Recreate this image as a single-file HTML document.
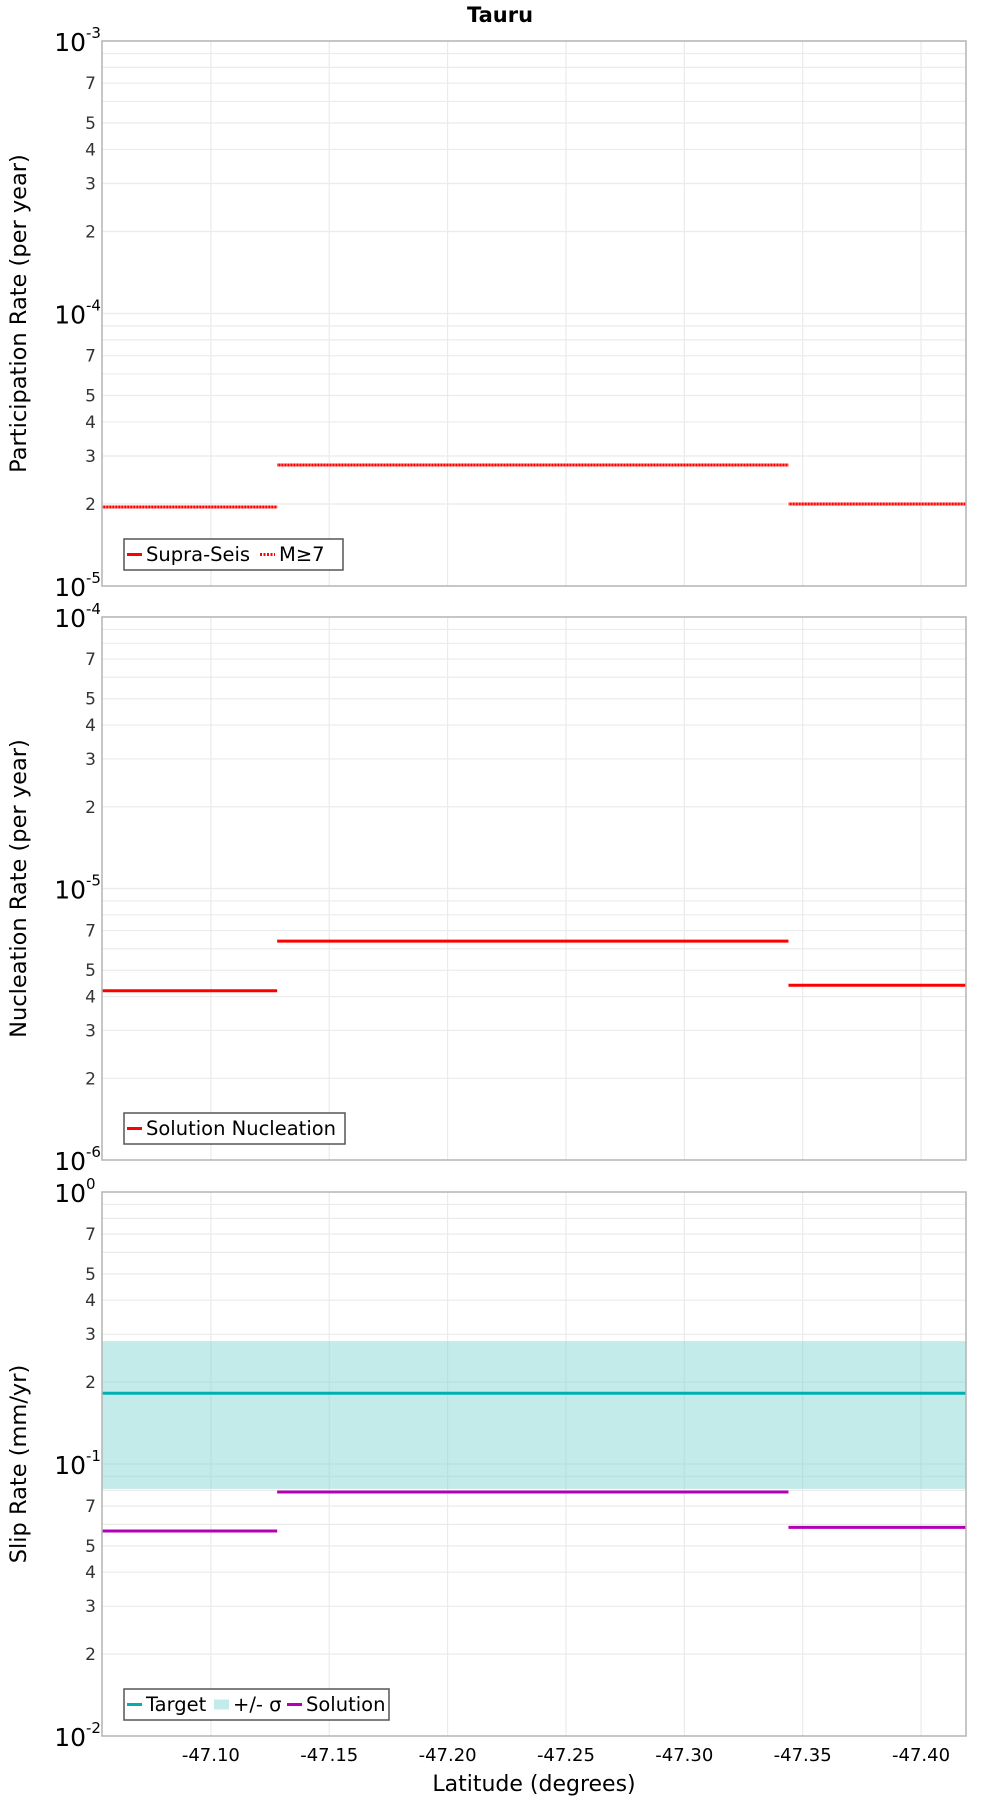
<!DOCTYPE html>
<html><head><meta charset="utf-8"><style>
body{margin:0;background:#fff;}
svg{display:block;font-family:"DejaVu Sans","Liberation Sans",sans-serif;}
</style></head><body>
<svg id="chart" width="1000" height="1800" viewBox="0 0 1000 1800" xmlns="http://www.w3.org/2000/svg">
<text x="500" y="22" text-anchor="middle" font-size="21" font-weight="bold">Tauru</text>
<text x="534" y="1791" text-anchor="middle" font-size="22">Latitude (degrees)</text>
</svg>
<script>
const xTicks=[-47.10,-47.15,-47.20,-47.25,-47.30,-47.35,-47.40];
const xTickLabels=["-47.10","-47.15","-47.20","-47.25","-47.30","-47.35","-47.40"];
const segStarts=[-47.054,-47.128,-47.344];
const segEnds=[-47.128,-47.344,-47.419];
const participation=[1.95e-5,2.78e-5,2.0e-5];
const participationM7=[1.95e-5,2.78e-5,2.0e-5];
const nucleation=[4.2e-6,6.4e-6,4.4e-6];
const slipSolution=[0.0567,0.0789,0.0585];
const slipTarget=[0.182];
const slipBandLow=[0.081];
const slipBandHigh=[0.283];

const svg=document.getElementById('chart');
const NS='http://www.w3.org/2000/svg';
const L=102,R=966,X0=-47.054,X1=-47.419;
function xs(v){return L+(v-X0)/(X1-X0)*(R-L);}
function mk(tag,attrs,parent){const e=document.createElementNS(NS,tag);for(const k in attrs)e.setAttribute(k,attrs[k]);(parent||svg).appendChild(e);return e;}

const panels=[
 {name:'participation',top:41,bot:586,dmin:-5,dmax:-3,title:'Participation Rate (per year)'},
 {name:'nucleation',top:617,bot:1160,dmin:-6,dmax:-4,title:'Nucleation Rate (per year)'},
 {name:'slip',top:1192,bot:1736,dmin:-2,dmax:0,title:'Slip Rate (mm/yr)'}
];
panels.forEach(p=>{
 p.ys=v=>p.bot-(Math.log10(v)-p.dmin)/(p.dmax-p.dmin)*(p.bot-p.top);
 const g=mk('g',{});
 
 
 p.g=g;
 for(let d=p.dmin;d<p.dmax;d++){for(let m=1;m<=9;m++){const v=m*Math.pow(10,d);const y=p.ys(v);
   if(m>1){const l=mk('line',{x1:L,x2:R,y1:y,y2:y,stroke:'#ebebeb','stroke-width':1.2},g);}
   if([2,3,4,5,7].includes(m)){const t=mk('text',{x:L-6,y:y+6,'text-anchor':'end','font-size':17,fill:'#333'},g);t.textContent=m;}
 }}
 for(let d=p.dmin;d<=p.dmax;d++){const y=p.ys(Math.pow(10,d));
   if(d>p.dmin&&d<p.dmax){const l=mk('line',{x1:L,x2:R,y1:y,y2:y,stroke:'#ebebeb','stroke-width':1.2},g);}
   const t=mk('text',{x:L-16,y:y+10,'text-anchor':'end','font-size':25},g);t.textContent='10';
   const s=mk('text',{x:L-16,y:y-3,'text-anchor':'start','font-size':15},g);s.textContent=String(d);
 }
 xTicks.forEach((v,i)=>{const x=xs(v);const l=mk('line',{x1:x,x2:x,y1:p.top,y2:p.bot,stroke:'#ebebeb','stroke-width':1.2},g);});
 const yt=mk('text',{x:0,y:0,'text-anchor':'middle','font-size':22.5,transform:`translate(26,${(p.top+p.bot)/2}) rotate(-90)`},g);yt.textContent=p.title;
});
const ps=panels[2];
const band=mk('rect',{x:L,y:ps.ys(slipBandHigh[0]),width:R-L,height:ps.ys(slipBandLow[0])-ps.ys(slipBandHigh[0]),fill:'#7fd4d2','fill-opacity':0.47},ps.g);

const tl=mk('line',{x1:L,x2:R,y1:ps.ys(slipTarget[0]),y2:ps.ys(slipTarget[0]),stroke:'#00b0b0','stroke-width':3},ps.g);

function segs(p,vals,color,name,dash){vals.forEach((v,i)=>{const y=p.ys(v);const a={x1:xs(segStarts[i]),x2:xs(segEnds[i]),y1:y,y2:y,stroke:color,'stroke-width':3};if(dash)a['stroke-dasharray']=dash;const l=mk('line',a,p.g);});}
segs(panels[0],participation,'#ff0000','supra-seis');
segs(panels[0],participationM7,'#ff6060','m7','1.5 1.5');
segs(panels[1],nucleation,'#ff0000','nucleation');
segs(ps,slipSolution,'#b400b4','solution');
panels.forEach(p=>{const f=mk('rect',{x:L,y:p.top,width:R-L,height:p.bot-p.top,fill:'none',stroke:'#b4b4b4','stroke-width':1.5},p.g);});
xTicks.forEach((v,i)=>{const t=mk('text',{x:xs(v),y:1761,'text-anchor':'middle','font-size':18});t.textContent=xTickLabels[i];});
function legend(p,items,w){const lg=mk('g',{});
 const y0=p.bot-47;mk('rect',{x:124,y:y0,width:w,height:31,fill:'#fff',stroke:'#555','stroke-width':1.5},lg);
 let x=127;items.forEach(it=>{const a={x1:x,x2:x+15,y1:y0+15.5,y2:y0+15.5,stroke:it.c,'stroke-width':it.band?10:3};if(it.dash)a['stroke-dasharray']=it.dash;const l=mk('line',a,lg);
  const t=mk('text',{x:x+19,y:y0+22,'font-size':19.5},lg);t.textContent=it.t;x+=19+it.w;});}
legend(panels[0],[{c:'#ff0000',t:'Supra-Seis',w:114},{c:'#ff0000',t:'M≥7',dash:'2 1.5',w:50}],219);
legend(panels[1],[{c:'#ff0000',t:'Solution Nucleation',w:200}],221);
legend(ps,[{c:'#00b0b0',t:'Target',w:68},{c:'#c2ecea',t:'+/- σ',band:true,w:54},{c:'#b400b4',t:'Solution',w:95}],265);
</script>
</body></html>
